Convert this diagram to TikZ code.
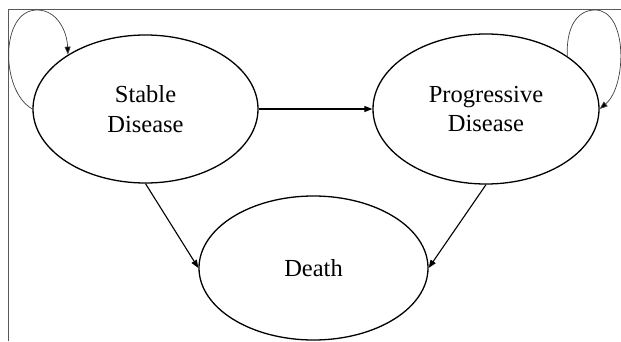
\documentclass[tikz,border=0pt]{standalone}
\usepackage{fontspec}
\setmainfont{Liberation Serif}
\usetikzlibrary{arrows.meta,shapes.geometric}
\begin{document}
\begin{tikzpicture}[x=1pt,y=1pt,
  state/.style={draw, ellipse, line width=1.3pt, inner sep=0pt, align=center,
    font=\fontsize{24.5}{29.5}\selectfont},
  trans/.style={line width=1.1pt, -{Triangle[length=8pt,width=6pt]}},
  selfloop/.style={line width=0.7pt, draw=black!75, -{Triangle[length=8pt,width=6pt,fill=black]}},
  frame/.style={line width=1pt, draw=black!65}]
\useasboundingbox (0,0) rectangle (621,341);
\draw[frame] (8,0) -- (8,331) -- (621,331);
\node[state, minimum width=225pt, minimum height=148pt] (S) at (145.5,232) {Stable\\Disease};
\node[state, minimum width=226pt, minimum height=150pt] (P) at (486,232) {Progressive\\Disease};
\node[state, minimum width=229pt, minimum height=144pt] (D) at (313.5,73) {Death};
\draw[trans] (S.east) -- (P.west);
\draw[trans] (S.south) -- (D.west);
\draw[trans] (P.south) -- (D.east);
\coordinate (Stop) at (37,331);
\coordinate (Ptop) at (595,331);
\draw[selfloop] (S.west) .. controls (0,250) and (0,331) .. (Stop)
  .. controls (57,331) and (67,310) .. (S.145.5);
\draw[selfloop] (P.33.5) .. controls (566,312) and (576,331) .. (Ptop)
  .. controls (628,331) and (627,255) .. (P.east);
\end{tikzpicture}
\end{document}
